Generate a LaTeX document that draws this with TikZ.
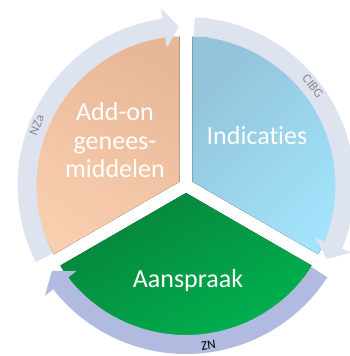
\documentclass[tikz,border=0pt]{standalone}
\usepackage{fontspec}
\setmainfont{Carlito}[Ligatures=NoCommon]
\usepackage{tikz}

\definecolor{peachdark}{HTML}{E8B797}
\definecolor{peachlight}{HTML}{F8CEAF}
\definecolor{skydark}{HTML}{92C4DA}
\definecolor{skylight}{HTML}{A2E4FC}
\definecolor{leafdark}{HTML}{06843A}
\definecolor{leaflight}{HTML}{00B452}
\definecolor{ringpale}{HTML}{DEE3F0}
\definecolor{ringblue}{HTML}{B0BBDF}
\definecolor{labelgray}{HTML}{8A8A8A}

\begin{document}
\begin{tikzpicture}[x=1pt, y=1pt,
	wedgetext/.style={text=white, font=\fontsize{26}{28.5}\selectfont, align=center},
	ringtext/.style={font=\fontsize{13}{13}\selectfont, inner sep=0pt}]
		{
			\def\rin{149.5}
			\def\rout{168.5}
			\def\rmid{159}
			\def\rwedge{145}
			\def\off{7.5}
			\def\headw{20}
			\useasboundingbox (-186,-170.5) rectangle (164,185.5);
			\clip (-186,-170.5) rectangle (164,185.5);

			\foreach \mid/\cdark/\clight/\shang in {150/peachdark/peachlight/-30, 30/skydark/skylight/45, 270/leafdark/leaflight/30}
			{
				\pgfmathsetmacro{\sa}{\mid-60}
				\pgfmathsetmacro{\ea}{\mid+60}
				\fill[shift={(\mid:\off)}, top color=\cdark, bottom color=\clight, shading angle=\shang]
					(0,0) -- (\sa:\rwedge) arc[start angle=\sa, end angle=\ea, radius=\rwedge] -- cycle;
			}

			\foreach \g/\ring/\ink/\rot/\txt in {210/ringpale/labelgray/-90/NZa, 90/ringpale/labelgray/-90/CIBG, -30/ringblue/black/90/ZN}
			{
				\pgfmathsetmacro{\sa}{\g-3}
				\pgfmathsetmacro{\ba}{\g-112}
				\pgfmathsetmacro{\ta}{\g-117.5}
				\pgfmathsetmacro{\la}{\g-52}
				\fill[\ring] (\sa:\rout) arc[start angle=\sa, end angle=\ba, radius=\rout]
					-- ({\ba}:{\rmid+\headw}) -- ({\ta}:{\rmid}) -- ({\ba}:{\rmid-\headw})
					-- (\ba:\rin) arc[start angle=\ba, end angle=\sa, radius=\rin] -- cycle;
				\node[ringtext, text=\ink, rotate=\la+\rot] (lbl\txt) at (\la:161) {\txt};
			}

			\node[wedgetext] (addon) at (-71,45) {Add-on\\genees-\\middelen};
			\node[wedgetext, anchor=base] (indic) at (71,40.5) {Indicaties};
			\node[wedgetext, anchor=base] (aansp) at (2,-101.5) {Aanspraak};
		}
	\end{tikzpicture}
\end{document}
